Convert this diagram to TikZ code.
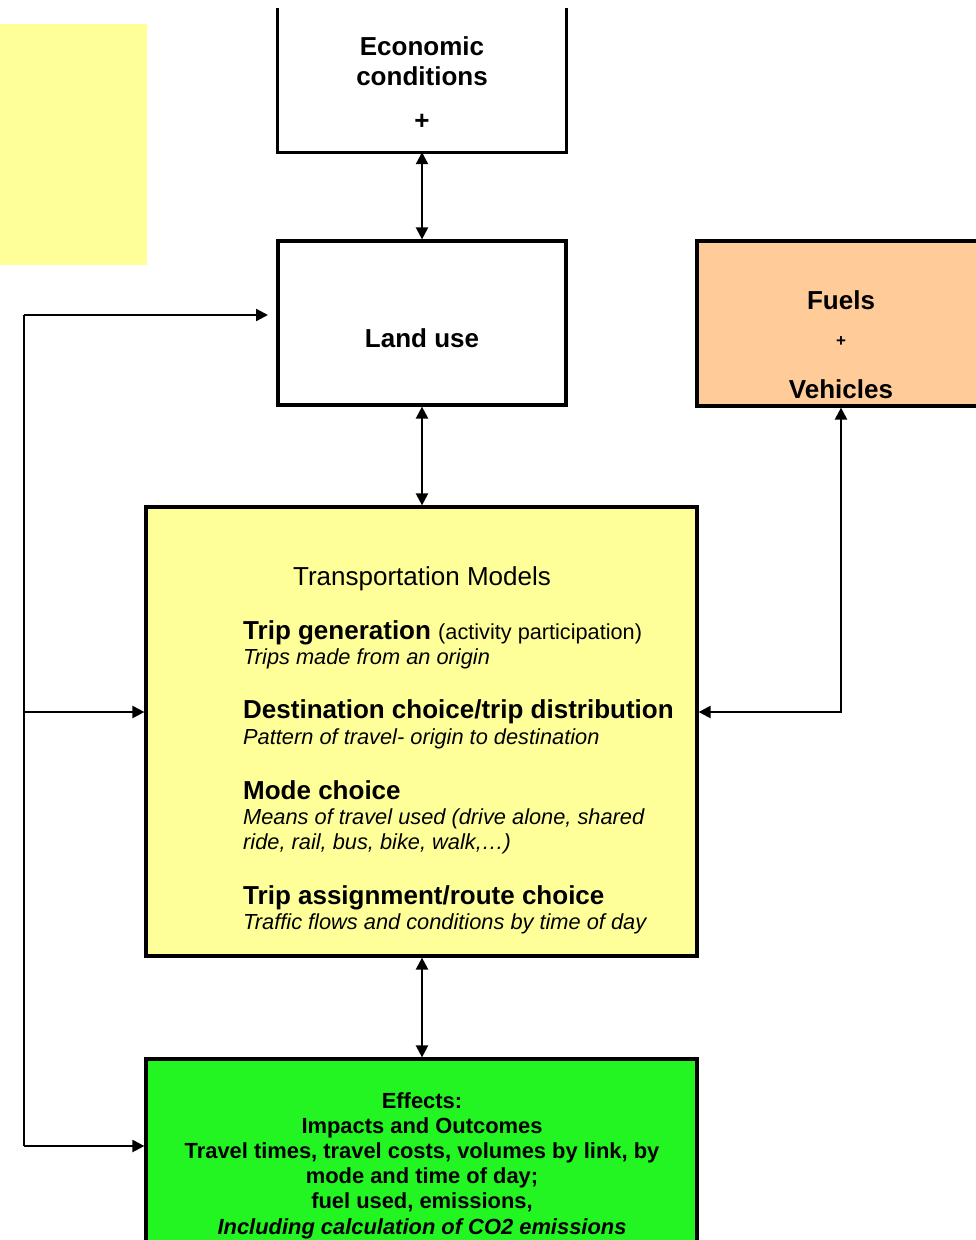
\documentclass[tikz,border=0pt]{standalone}
\usepackage{fontspec}
\setmainfont{Liberation Sans}
\usetikzlibrary{arrows.meta}
\definecolor{paleyellow}{HTML}{FFFF99}
\definecolor{peach}{HTML}{FFCC99}
\definecolor{brightgreen}{HTML}{22F522}
\begin{document}
\begin{tikzpicture}[x=1pt,y=-1pt,
  box/.style={draw=black,line width=3.2pt,rectangle,inner sep=0pt},
  conn/.style={line width=2.2pt,-{Triangle[length=12pt,width=12pt]}},
  bidir/.style={line width=2.2pt,{Triangle[length=12pt,width=12pt]}-{Triangle[length=12pt,width=12pt]}},
  big/.style={font=\fontsize{26}{30}\selectfont\bfseries},
  hd/.style={anchor=base west,inner sep=0pt,font=\fontsize{26}{30}\selectfont\bfseries},
  it/.style={anchor=base west,inner sep=0pt,font=\fontsize{21.8}{25}\selectfont\itshape},
  gt/.style={anchor=base,inner sep=0pt,font=\fontsize{21.9}{25}\selectfont\bfseries}]
\useasboundingbox (0,0) rectangle (976,1240);
% yellow patch
\fill[paleyellow] (0,24) rectangle (147,265);
% boxes
\node[inner sep=0pt,minimum width=288pt,minimum height=144pt] (econ) at (422,80) {};
\draw[line width=3.2pt] (econ.north west) -- (econ.south west) -- (econ.south east) -- (econ.north east);
\node[box,minimum width=288pt,minimum height=164pt] (land) at (422,323) {};
\node[box,fill=peach,minimum width=288pt,minimum height=165pt] (fuels) at (841,323.5) {};
\node[box,fill=paleyellow,minimum width=551pt,minimum height=449pt] (tm) at (421.5,731.5) {};
\node[box,fill=brightgreen,minimum width=551pt,minimum height=200pt] (eff) at (421.5,1159) {};
% texts
\node[big,anchor=base,inner sep=0pt] (t1) at (422,55) {Economic};
\node[big,anchor=base,inner sep=0pt] (t2) at (422,85) {conditions};
\node[big,anchor=base,inner sep=0pt] (t3) at (422,129) {+};
\node[big,anchor=base,inner sep=0pt] (t4) at (422,347) {Land use};
\node[big,anchor=base,inner sep=0pt] (t5) at (841,309) {Fuels};
\node[anchor=base,inner sep=0pt,font=\fontsize{17}{20}\selectfont\bfseries] (t6) at (841,346) {+};
\node[big,anchor=base,inner sep=0pt] (t7) at (841,398) {Vehicles};
\node[anchor=base,inner sep=0pt,font=\fontsize{26}{30}\selectfont] (t8) at (422,585) {Transportation Models};
\node[hd] (t9) at (243,639) {Trip generation {\mdseries\fontsize{21.7}{25}\selectfont(activity participation)}};
\node[it] (t10) at (243,664) {Trips made from an origin};
\node[hd] (t11) at (243,718) {Destination choice/trip distribution};
\node[it] (t12) at (243,744) {Pattern of travel- origin to destination};
\node[hd] (t13) at (243,799) {Mode choice};
\node[it] (t14) at (243,824) {Means of travel used (drive alone, shared};
\node[it] (t15) at (243,849) {ride, rail, bus, bike, walk,\dots)};
\node[hd] (t16) at (243,904) {Trip assignment/route choice};
\node[it] (t17) at (243,929) {Traffic flows and conditions by time of day};
\node[gt] (g1) at (422,1108) {Effects:};
\node[gt] (g2) at (422,1133) {Impacts and Outcomes};
\node[gt] (g3) at (422,1158) {Travel times, travel costs, volumes by link, by};
\node[gt] (g4) at (422,1183) {mode and time of day;};
\node[gt] (g5) at (422,1208) {fuel used, emissions,};
\node[gt,font=\fontsize{21.9}{25}\selectfont\bfseries\itshape] (g6) at (422,1234) {Including calculation of CO2 emissions};
% connectors
\draw[bidir] (econ.south) -- (land.north);
\draw[bidir] (land.south) -- (land.south |- tm.north);
\draw[bidir] (land.south |- tm.south) -- (land.south |- eff.north);
\coordinate (fbtop) at (24,315);
\coordinate (fbmid) at (24,712);
\coordinate (fbbot) at (24,1146);
\coordinate (luin) at (268,315);
\draw[line width=2.2pt] (fbtop) -- (fbbot);
\draw[conn] (fbtop) -- (luin);
\draw[conn] (fbmid) -- (tm.west |- fbmid);
\draw[conn] (fbbot) -- (eff.west |- fbbot);
\draw[bidir] (tm.east |- fbmid) -| (fuels.south);
\end{tikzpicture}
\end{document}
